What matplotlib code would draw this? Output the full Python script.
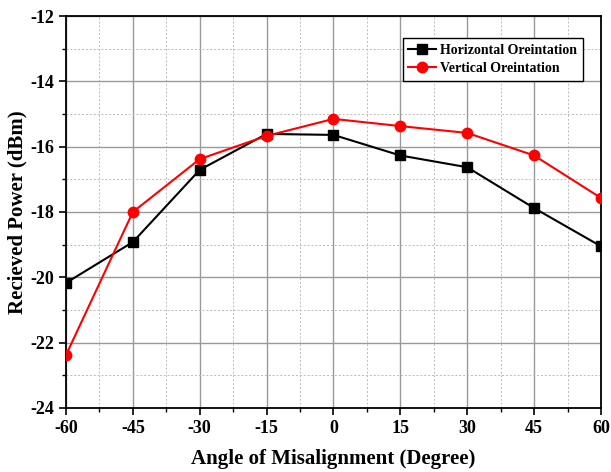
import matplotlib.pyplot as plt
from matplotlib.ticker import MultipleLocator

angles = [-60, -45, -30, -15, 0, 15, 30, 45, 60]
horizontal = [-20.17, -18.92, -16.71, -15.61, -15.64, -16.27, -16.63, -17.88, -19.05]
vertical = [-22.38, -18.0, -16.38, -15.67, -15.15, -15.37, -15.58, -16.27, -17.57]

plt.rcParams['font.family'] = ['Liberation Serif', 'DejaVu Serif']
plt.rcParams['font.weight'] = 'bold'
plt.rcParams['axes.unicode_minus'] = False

fig = plt.figure(figsize=(6.11, 4.72), dpi=100)
ax = fig.add_axes([0.108, 0.1356, 0.8756, 0.8305])

ax.plot(angles, horizontal, color='black', marker='s', markersize=6.5, linewidth=1.5,
        label='Horizontal Oreintation', zorder=3)
ax.plot(angles, vertical, color='red', marker='o', markersize=7.5, linewidth=1.5,
        label='Vertical Oreintation', zorder=3)

ax.set_xlim(-60, 60)
ax.set_ylim(-24, -12)
ax.xaxis.set_major_locator(MultipleLocator(15))
ax.xaxis.set_minor_locator(MultipleLocator(7.5))
ax.yaxis.set_major_locator(MultipleLocator(2))
ax.yaxis.set_minor_locator(MultipleLocator(1))

ax.grid(which='major', color='#999999', linewidth=1.0, linestyle='-')
ax.grid(which='minor', color='#bbbbbb', linewidth=0.7, linestyle=(0, (2, 2)))
ax.set_axisbelow(True)

ax.tick_params(which='major', direction='out', length=5, width=1.2, labelsize=13)
ax.tick_params(which='minor', direction='out', length=3, width=1)
for s in ax.spines.values():
    s.set_linewidth(1.3)

ax.set_xlabel('Angle of Misalignment (Degree)', fontsize=15, fontweight='bold', labelpad=9)
ax.set_ylabel('Recieved Power (dBm)', fontsize=15, fontweight='bold', labelpad=2)

leg = ax.legend(loc='upper right', bbox_to_anchor=(0.966, 0.944), borderaxespad=0,
                fontsize=10, fancybox=False, edgecolor='black', framealpha=1,
                handlelength=2.0, borderpad=0.4, labelspacing=0.4, handletextpad=0.3)
leg.get_frame().set_linewidth(1.0)

fig.savefig('out.png', dpi=100)
